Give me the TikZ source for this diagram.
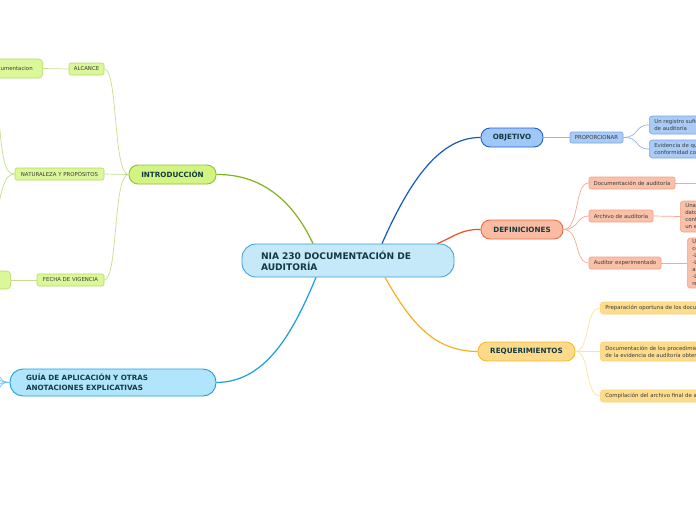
\documentclass[tikz,border=0pt]{standalone}
\usepackage{fontspec}
\setmainfont{DejaVu Sans}
\definecolor{ctrfill}{HTML}{C6E9FA}\definecolor{ctrdraw}{HTML}{3D9AD6}
\definecolor{txtmain}{HTML}{123A42}\definecolor{txtsmall}{HTML}{3B3B3B}
\definecolor{grA}{HTML}{D3F480}\definecolor{grAd}{HTML}{8CC43C}\definecolor{grL}{HTML}{7FB51A}
\definecolor{grB}{HTML}{DAF79A}\definecolor{grBd}{HTML}{B5DD5F}\definecolor{grBL}{HTML}{C5E08A}
\definecolor{blA}{HTML}{9FC7F7}\definecolor{blAd}{HTML}{1F62C9}\definecolor{blL}{HTML}{1558C0}
\definecolor{blB}{HTML}{A9CBF6}\definecolor{blBd}{HTML}{79A5E2}\definecolor{blBL}{HTML}{8FB6EE}
\definecolor{rdA}{HTML}{F9BBA3}\definecolor{rdAd}{HTML}{F06A40}\definecolor{rdL}{HTML}{F04E23}
\definecolor{rdB}{HTML}{F9C0AA}\definecolor{rdBd}{HTML}{F7A184}\definecolor{rdBL}{HTML}{F9A88C}
\definecolor{yeA}{HTML}{FDD98A}\definecolor{yeAd}{HTML}{F8B92E}\definecolor{yeL}{HTML}{F5B120}
\definecolor{yeB}{HTML}{FEDC8D}\definecolor{yeBd}{HTML}{FCD171}\definecolor{yeBL}{HTML}{FDE2A0}
\definecolor{cyA}{HTML}{B1E5FB}\definecolor{cyAd}{HTML}{1F9FE0}\definecolor{cyL}{HTML}{199EDE}
\tikzset{
  mainbox/.style={draw, line width=0.9pt, rounded corners=9pt, inner sep=0pt, text=txtmain,
     font=\bfseries\fontsize{7.2}{8.5}\selectfont},
  subbox/.style={draw, line width=0.6pt, rounded corners=2pt, inner sep=0pt, text=txtsmall,
     font=\fontsize{5.4}{6.5}\selectfont, minimum height=12pt},
  leafbox/.style={draw, line width=0.6pt, rounded corners=3pt, inner xsep=5pt, inner ysep=0pt,
     text=txtsmall, font=\fontsize{5.4}{7.2}\selectfont, align=left, anchor=west},
  maincon/.style={line width=1.2pt},
  subcon/.style={line width=0.7pt},
}
\begin{document}
\begin{tikzpicture}[x=1pt,y=-1pt]
\useasboundingbox (0,0) rectangle (696,520);
\fill[white] (0,0) rectangle (696,520);
\clip (0,0) rectangle (696,520);

% central node
\node[draw=ctrdraw, fill=ctrfill, line width=0.8pt, rounded corners=14pt, text=txtmain,
  font=\bfseries\fontsize{9.1}{11}\selectfont, inner xsep=19pt, inner ysep=0pt,
  text width=174pt, align=left, minimum height=33pt] (c) at (348,260.5)
  {NIA 230 DOCUMENTACIÓN DE\\AUDITORÍA};

% main branches
\node[mainbox, draw=grAd, fill=grA, minimum width=87pt, minimum height=19pt] (intro) at (172.5,174.5) {INTRODUCCIÓN};
\node[mainbox, draw=blAd, fill=blA, minimum width=62pt, minimum height=19pt] (obj) at (512,137.5) {OBJETIVO};
\node[mainbox, draw=rdAd, fill=rdA, minimum width=82pt, minimum height=19pt] (def) at (522,229.5) {DEFINICIONES};
\node[mainbox, draw=yeAd, fill=yeA, minimum width=97pt, minimum height=19pt] (req) at (526.5,351.5) {REQUERIMIENTOS};
\node[mainbox, draw=cyAd, fill=cyA, rounded corners=13pt, minimum height=27pt, inner xsep=16pt,
  text width=174pt, align=left, font=\bfseries\fontsize{7.2}{10}\selectfont] (guia) at (113,382.5)
  {GUÍA DE APLICACIÓN Y OTRAS\\ANOTACIONES EXPLICATIVAS};

\draw[maincon, grL] ([xshift=-35pt]c.north) .. controls (295,205) and (265,174) .. (intro.east);
\draw[maincon, cyL] ([xshift=-32pt]c.south) .. controls (292,335) and (265,382) .. (guia.east);
\draw[maincon, blL] ([xshift=34pt]c.north) .. controls (410,180) and (440,137) .. (obj.west);
\draw[maincon, rdL] ([xshift=-17pt]c.north east) .. controls (455,236) and (462,229) .. (def.west);
\draw[maincon, yeL] ([xshift=37pt]c.south) .. controls (412,325) and (435,351) .. (req.west);

% introduccion children
\node[subbox, draw=grBd, fill=grB, minimum width=35pt] (alc) at (86.5,69) {ALCANCE};
\node[subbox, draw=grBd, fill=grB, minimum width=89pt] (nat) at (59.5,174) {NATURALEZA Y PROPÓSITOS};
\node[subbox, draw=grBd, fill=grB, minimum width=67pt] (fec) at (70.5,280) {FECHA DE VIGENCIA};
\draw[subcon, grBL] (intro.west) .. controls (113,174) and (118,69) .. (alc.east);
\draw[subcon, grBL] (intro.west) -- (nat.east);
\draw[subcon, grBL] (intro.west) .. controls (113,174) and (118,280) .. (fec.east);

\node[leafbox, draw=grBd, fill=grB, rounded corners=4pt, inner xsep=10pt, minimum height=19pt, anchor=east] (doca) at (43,68.5) {Documentacion};
\draw[subcon, grBL] (alc.west) -- (doca.east);
\node[leafbox, draw=grBd, fill=grB, rounded corners=4pt, minimum height=18pt, minimum width=40pt, anchor=east] (fecc) at (11,280) {};
\draw[subcon, grBL] (fec.west) -- (fecc.east);
\coordinate (natA) at (-3,95);
\coordinate (natB) at (-6,230);
\draw[subcon, grBL] (nat.west) .. controls (4,174) and (2,160) .. (natA);
\draw[subcon, grBL] (nat.west) .. controls (4,174) and (1,190) .. (natB);

% guia children stubs
\coordinate (g1) at (-4,370);
\coordinate (g2) at (-4,378);
\coordinate (g3) at (-4,387);
\coordinate (g4) at (-4,395);
\foreach \g in {g1,g2,g3,g4} \draw[subcon, cyL!60] (guia.west) .. controls (4,382) and (2,382) .. (\g);

% objetivo
\node[subbox, draw=blBd, fill=blB, minimum width=53pt, minimum height=11pt] (prop) at (596.5,137.5) {PROPORCIONAR};
\draw[subcon, blBL] (obj.east) -- (prop.west);
\node[leafbox, draw=blBd, fill=blB, minimum height=18pt] (o1) at (649,125)
  {Un registro suficiente y adecuado de la base para el informe\\de auditoría};
\node[leafbox, draw=blBd, fill=blB, minimum height=18pt] (o2) at (649,149)
  {Evidencia de que la auditoría se planificó y ejecutó de\\conformidad con las NIA};
\draw[subcon, blBL] (prop.east) .. controls (640,137) and (634,125) .. (o1.west);
\draw[subcon, blBL] (prop.east) .. controls (640,137) and (634,149) .. (o2.west);

% definiciones
\node[subbox, draw=rdBd, fill=rdB, minimum width=86pt] (d1) at (632,183) {Documentación de auditoría};
\node[subbox, draw=rdBd, fill=rdB, minimum width=64pt] (d2) at (621,216) {Archivo de auditoría};
\node[subbox, draw=rdBd, fill=rdB, minimum width=72pt] (d3) at (625,263) {Auditor experimentado};
\draw[subcon, rdBL] (def.east) .. controls (580,229) and (574,183) .. (d1.west);
\draw[subcon, rdBL] (def.east) .. controls (580,229) and (576,216) .. (d2.west);
\draw[subcon, rdBL] (def.east) .. controls (580,229) and (574,263) .. (d3.west);
\coordinate (d1r) at (700,183);
\draw[subcon, rdBL] (d1.east) -- (d1r);
\node[leafbox, draw=rdBd, fill=rdB, minimum height=31pt, font=\fontsize{5.4}{7.2}\selectfont] (d2c) at (680,216.5)
  {Una o más carpetas u otros medios de almacenamiento de\\datos, físicos o electrónicos, que contienen los registros\\conforman la documentación de auditoría correspondiente\\un encargo específico.};
\draw[subcon, rdBL] (d2.east) -- (d2c.west);
\node[leafbox, draw=rdBd, fill=rdB, minimum height=50pt, font=\fontsize{5.4}{6.9}\selectfont] (d3c) at (687,263)
  {Una persona que tiene experiencia práctica de auditoría y un\\conocimiento razonable de:\\-Los procesos de auditoría;\\-Las NIA y los requerimientos legales y reglamentarios\\aplicables;\\-Las cuestiones de auditoría y de información financiera\\relevantes para el sector.};
\draw[subcon, rdBL] (d3.east) -- (d3c.west);

% requerimientos
\node[leafbox, draw=yeBd, fill=yeB, minimum height=12pt] (r1) at (600,308) {Preparación oportuna de los documentos de auditoría};
\node[leafbox, draw=yeBd, fill=yeB, minimum height=19pt] (r2) at (600,351.5)
  {Documentación de los procedimientos de auditoría aplicados y\\de la evidencia de auditoría obtenida};
\node[leafbox, draw=yeBd, fill=yeB, minimum height=12pt] (r3) at (600,396) {Compilación del archivo final de auditoría};
\draw[subcon, yeBL] (req.east) .. controls (590,351) and (585,308) .. (r1.west);
\draw[subcon, yeBL] (req.east) -- (r2.west);
\draw[subcon, yeBL] (req.east) .. controls (590,351) and (585,396) .. (r3.west);
\end{tikzpicture}
\end{document}
